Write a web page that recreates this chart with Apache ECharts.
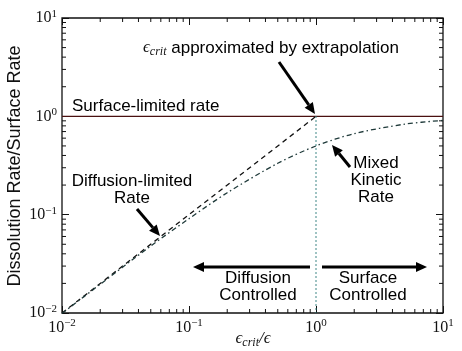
<!DOCTYPE html>
<html>
<head>
<meta charset="utf-8">
<script src="https://cdn.jsdelivr.net/npm/echarts@6/dist/echarts.min.js"></script>
<style>
  html, body { margin: 0; padding: 0; background: #fff; }
  #chart { width: 462px; height: 351px; }
</style>
</head>
<body>
<div id="chart"></div>
<script>
// 数据
const xRange = [0.01, 10]
const yRange = [0.01, 10]
// diffusion-limited rate (dashed)
const diffusionX = [0.01, 0.1, 1]
const diffusionY = [0.01, 0.1, 1]
// surface-limited rate
const surfaceX = [0.01, 10]
const surfaceY = [1, 1]
// mixed kinetic rate (dash-dot)
const mixedX = [0.01, 0.02, 0.05, 0.1, 0.2, 0.5, 1, 2, 5, 10]
const mixedY = [0.0099, 0.0196, 0.048, 0.091, 0.167, 0.333, 0.5, 0.667, 0.833, 0.909]
// ε_crit line
const critX = [1, 1]
const critY = [1, 0.01]
// minor ticks
const minorTicks = [0.02, 0.03, 0.04, 0.05, 0.06, 0.07, 0.08, 0.09,
  0.2, 0.3, 0.4, 0.5, 0.6, 0.7, 0.8, 0.9, 2, 3, 4, 5, 6, 7, 8, 9]

const zip = (xs, ys) => xs.map((x, i) => [x, ys[i]])

const SANS = 'Liberation Sans, Arial, sans-serif'
const SERIF = 'Liberation Serif, Times New Roman, serif'

function powLabel(v) {
  const e = Math.round(Math.log10(v))
  return '{b|10}{s|' + (e < 0 ? '\u2212' + -e : e) + '}'
}
const powRich = {
  b: { fontFamily: SERIF, fontSize: 16, color: '#111' },
  s: { fontFamily: SERIF, fontSize: 11, color: '#111', verticalAlign: 'top', padding: [0, 0, 8, 0] }
}

const chart = echarts.init(document.getElementById('chart'))

function arrow(x1, y1, x2, y2) {
  const a = Math.atan2(y2 - y1, x2 - x1)
  const L = 11, W = 5
  const bx = x2 - L * Math.cos(a), by = y2 - L * Math.sin(a)
  const nx = -Math.sin(a) * W, ny = Math.cos(a) * W
  return [
    { type: 'line', shape: { x1, y1, x2: bx, y2: by }, style: { stroke: '#000', lineWidth: 3 } },
    { type: 'polygon', shape: { points: [[x2, y2], [bx + nx, by + ny], [bx - nx, by - ny]] }, style: { fill: '#000' } }
  ]
}

function text(x, y, t, align) {
  return { type: 'text', x, y, style: { text: t, font: '17px ' + SANS, fill: '#000', textAlign: align || 'center', textVerticalAlign: 'middle', lineHeight: 17 } }
}

const epsRich = {
  e: { fontFamily: SERIF, fontStyle: 'italic', fontSize: 17, fill: '#111' },
  s: { fontFamily: SERIF, fontStyle: 'italic', fontSize: 12, fill: '#111', verticalAlign: 'bottom', padding: [7, 0, 0, 0] },
  t: { fontFamily: SANS, fontSize: 17, fill: '#000' }
}

const option = {
  animation: false,
  grid: {
    left: 62, right: 19, top: 18, bottom: 38, outerBoundsMode: 'none', containLabel: false,
    show: true, borderColor: '#111', borderWidth: 1.3, backgroundColor: 'transparent'
  },
  xAxis: [
    {
      type: 'log', logBase: 10, min: xRange[0], max: xRange[1],
      axisLine: { show: false }, splitLine: { show: false },
      axisTick: { inside: true, length: 7, lineStyle: { color: '#111' } },
      axisLabel: { formatter: powLabel, rich: powRich, margin: 5 }
    },
    {
      type: 'log', logBase: 10, min: xRange[0], max: xRange[1], position: 'top',
      axisLine: { show: false }, splitLine: { show: false }, axisLabel: { show: false },
      axisTick: { inside: true, length: 7, lineStyle: { color: '#111' } }
    }
  ],
  yAxis: [
    {
      type: 'log', logBase: 10, min: yRange[0], max: yRange[1],
      axisLine: { show: false }, splitLine: { show: false },
      axisTick: { inside: true, length: 7, lineStyle: { color: '#111' } },
      axisLabel: { formatter: powLabel, rich: powRich, margin: 5 }
    },
    {
      type: 'log', logBase: 10, min: yRange[0], max: yRange[1], position: 'right',
      axisLine: { show: false }, splitLine: { show: false }, axisLabel: { show: false },
      axisTick: { inside: true, length: 7, lineStyle: { color: '#111' } }
    }
  ],
  series: [
    {
      type: 'line', data: zip(surfaceX, surfaceY), symbol: 'none',
      lineStyle: { color: '#4a1010', width: 1.3 }
    },
    {
      type: 'line', data: zip(diffusionX, diffusionY), symbol: 'none',
      lineStyle: { color: '#111', width: 1.3, type: [5, 4] }
    },
    {
      type: 'line', data: zip(mixedX, mixedY), symbol: 'none', smooth: 0.3,
      lineStyle: { color: '#1f3a3a', width: 1.3, type: [5, 3, 1.5, 3] }
    },
    {
      type: 'line', data: zip(critX, critY), symbol: 'none',
      lineStyle: { color: '#2a7a7a', width: 1.2, type: [1.5, 2.5] }
    },
    {
      type: 'custom', data: minorTicks.map(v => [v]), silent: true, clip: false,
      renderItem: (params, api) => {
        const v = api.value(0)
        const b = api.coord([v, yRange[0]])
        const t = api.coord([v, yRange[1]])
        const l = api.coord([xRange[0], v])
        const r = api.coord([xRange[1], v])
        const st = { stroke: '#111', lineWidth: 1 }
        return { type: 'group', children: [
          { type: 'line', shape: { x1: b[0], y1: b[1], x2: b[0], y2: b[1] - 4 }, style: st },
          { type: 'line', shape: { x1: t[0], y1: t[1], x2: t[0], y2: t[1] + 4 }, style: st },
          { type: 'line', shape: { x1: l[0], y1: l[1], x2: l[0] + 4, y2: l[1] }, style: st },
          { type: 'line', shape: { x1: r[0], y1: r[1], x2: r[0] - 4, y2: r[1] }, style: st }
        ] }
      }
    }
  ],
  graphic: [
    // 轴名称
    {
      type: 'text', x: 253, y: 339,
      style: { text: '{e|\u03f5}{s|crit}{e|/\u03f5}', textAlign: 'center', textVerticalAlign: 'middle', rich: epsRich }
    },
    {
      type: 'text', x: 15, y: 166, rotation: Math.PI / 2,
      style: { text: 'Dissolution Rate/Surface Rate', font: '18px ' + SANS, fill: '#111', textAlign: 'center', textVerticalAlign: 'middle' }
    },
    // 注释
    {
      type: 'text', x: 271, y: 48,
      style: { text: '{e|\u03f5}{s|crit}{t| approximated by extrapolation}', textAlign: 'center', textVerticalAlign: 'middle', rich: epsRich }
    },
    ...arrow(279, 62, 315, 114),
    text(72, 106, 'Surface-limited rate', 'left'),
    text(376, 180, 'Mixed\nKinetic\nRate'),
    ...arrow(350, 167, 332, 145),
    text(132, 190, 'Diffusion-limited\nRate'),
    ...arrow(137, 209, 160, 236),
    ...arrow(310, 267, 193, 267),
    ...arrow(322, 267, 427, 267),
    text(258, 287, 'Diffusion\nControlled'),
    text(368, 287, 'Surface\nControlled')
  ]
}

chart.setOption(option)
</script>
</body>
</html>
